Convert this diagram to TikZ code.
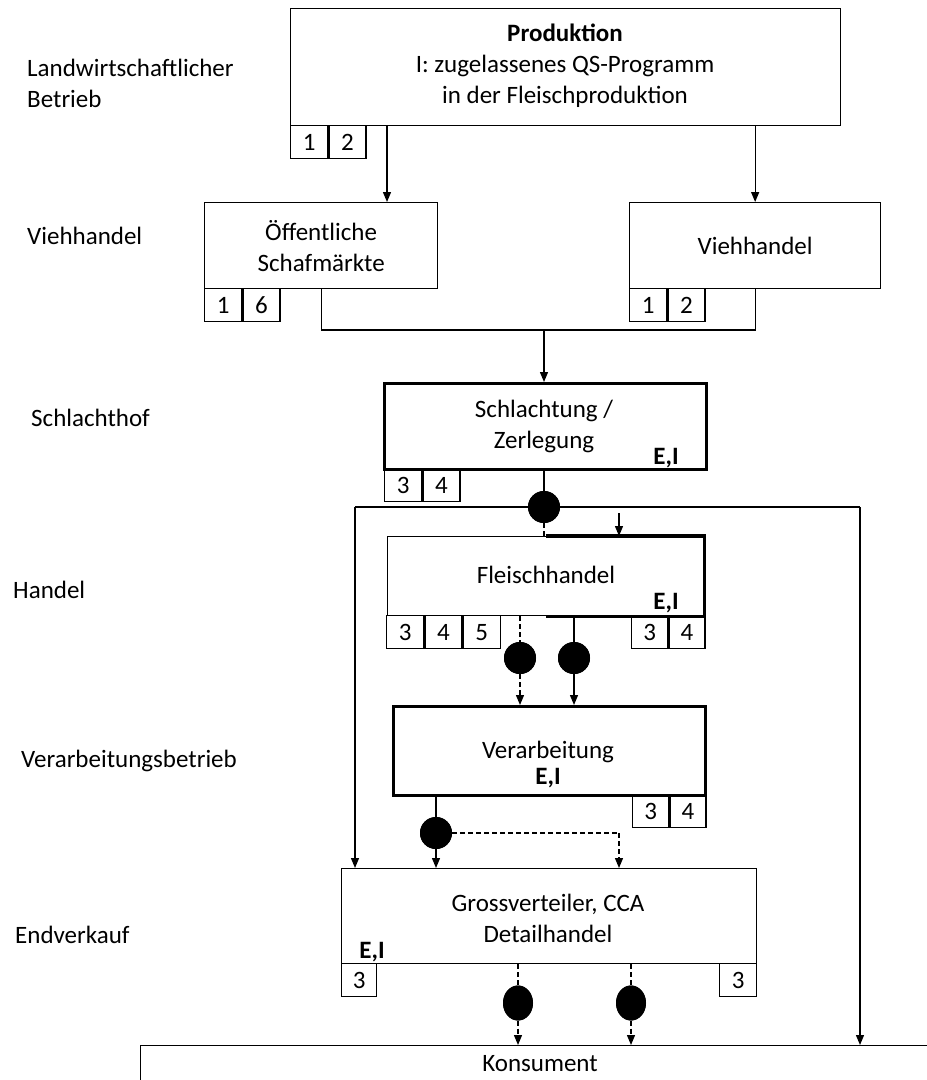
\documentclass[tikz,border=0pt]{standalone}
\usepackage{fontspec}
\setmainfont{Carlito}
\usetikzlibrary{arrows.meta,shapes.geometric}
\begin{document}
\begin{tikzpicture}[x=1pt,y=-1pt,
  every node/.style={font=\fontsize{25}{31}\selectfont, text=black},
  frame/.style={draw, line width=1.3pt, inner sep=0pt, anchor=north west},
  thickframe/.style={frame, line width=3.2pt},
  numbox/.style={draw, line width=1.3pt, inner sep=0pt, anchor=north west, minimum height=33pt, minimum width=#1},
  numbox/.default=37pt,
  txt/.style={align=center, inner sep=0pt},
  lbl/.style={align=left, anchor=west, inner sep=0pt},
  ei/.style={inner sep=0pt, font=\fontsize{25}{31}\selectfont\bfseries},
  ln/.style={line width=1.3pt},
  arr/.style={ln, -{Triangle[length=10pt,width=8pt]}},
  dsh/.style={ln, dash pattern=on 5pt off 3pt},
  dot/.style={circle, fill=black, draw=none, inner sep=0pt, minimum size=32pt},
  odot/.style={ellipse, fill=black, draw=none, inner sep=0pt, minimum width=30pt, minimum height=35pt}
]
\useasboundingbox[fill=white] (0,0) rectangle (927,1080);

% left labels
\node[lbl] (l1) at (27,83) {Landwirtschaftlicher\\Betrieb};
\node[lbl] (l2) at (27,236) {Viehhandel};
\node[lbl] (l3) at (31,418) {Schlachthof};
\node[lbl] (l4) at (13,590) {Handel};
\node[lbl] (l5) at (21,761) {Verarbeitungsbetrieb};
\node[lbl] (l6) at (15,935) {Endverkauf};

% Produktion
\node[frame, minimum width=550pt, minimum height=117pt] (prod) at (290,8) {};
\node[txt] (prodt) at (565,66) {\textbf{Produktion}\\I: zugelassenes QS-Programm\\in der Fleischproduktion};
\node[numbox] (p1) at (290,125) {1};
\node[numbox] (p2) at (p1.north east) {2};

% Oeffentliche Schafmaerkte
\node[frame, minimum width=233pt, minimum height=86pt] (schaf) at (204,202) {};
\node[txt] (schaft) at (schaf.center) {Öffentliche\\Schafmärkte};
\node[numbox] (s1) at (204,288) {1};
\node[numbox] (s2) at (s1.north east) {6};

% Viehhandel
\node[frame, minimum width=251pt, minimum height=86pt] (vieh) at (629,202) {};
\node[txt] (vieht) at (vieh.center) {Viehhandel};
\node[numbox] (v1) at (629,288) {1};
\node[numbox] (v2) at (v1.north east) {2};

% Schlachtung
\node[thickframe, minimum width=322pt, minimum height=86pt] (schl) at (383,382) {};
\node[txt] (schlt) at (544,426) {Schlachtung /\\Zerlegung};
\node[ei] (schlei) at (666,458) {E,I};
\node[numbox] (z1) at (384,468) {3};
\node[numbox] (z2) at (z1.north east) {4};

% Fleischhandel
\node[frame, minimum width=316pt, minimum height=79pt] (fl) at (387,536) {};
\draw[line width=3.2pt] (fl.north) -- (fl.north east) -- (fl.south east) -- (fl.south);
\node[txt] (flt) at (546,575) {Fleischhandel};
\node[ei] (flei) at (666,603) {E,I};
\node[numbox] (f1) at (386,615) {3};
\node[numbox] (f2) at (f1.north east) {4};
\node[numbox] (f3) at (f2.north east) {5};
\node[numbox=36pt] (f4) at (631,615) {3};
\node[numbox=36pt] (f5) at (f4.north east) {4};

% Verarbeitung
\node[thickframe, minimum width=312pt, minimum height=89pt] (ver) at (392,705) {};
\node[txt] (vert) at (548,752) {Verarbeitung};
\node[ei] (verei) at (548,778) {E,I};
\node[numbox=36pt] (r1) at (632,794) {3};
\node[numbox=36pt] (r2) at (r1.north east) {4};

% Endverkauf
\node[frame, minimum width=415pt, minimum height=95pt] (end) at (341,868) {};
\node[txt] (endt) at (548,918) {Grossverteiler, CCA\\Detailhandel};
\node[ei] (endei) at (372,952) {E,I};
\node[numbox=35pt] (e1) at (341,963) {3};
\node[numbox=37pt] (e2) at (719,963) {3};

% Konsument
\node[frame, minimum width=800pt, minimum height=80pt] (kons) at (140,1045) {};
\node[txt] (konst) at (540,1064) {Konsument};

% coordinates for connectors
\coordinate (x387) at (387,0);
\coordinate (j1) at (544,330);
\coordinate (hl) at (355,507);
\coordinate (hr) at (860,507);
\coordinate (sa) at (619,513);
\coordinate (dr) at (619,833);

% dots
\node[dot] (d1) at (544,507) {};
\node[dot] (d2) at (520,658) {};
\node[dot] (d3) at (574,658) {};
\node[dot] (d4) at (436,833) {};
\node[odot] (d5) at (518,1003) {};
\node[odot] (d6) at (631,1003) {};

% connectors
\draw[arr] (prod.south -| x387) -- (schaf.north -| x387);
\draw[arr] (prod.south -| vieh.north) -- (vieh.north);
\draw[ln] (schaf.south) -- (schaf.south |- j1) -- (vieh.south |- j1) -- (vieh.south);
\draw[arr] (j1) -- (j1 |- schl.north);
\draw[ln] (schl.south -| d1) -- (d1);
\draw[ln] (hl) -- (hr);
\draw[arr] (hl) -- (hl |- end.north);
\draw[arr] (hr) -- (hr |- kons.north);
\draw[dsh] (d1) -- (d1 |- fl.north);
\draw[arr] (sa) -- (sa |- fl.north);
\draw[dsh] (d2 |- fl.south) -- (d2);
\draw[dsh,arr] (d2) -- (d2 |- ver.north);
\draw[ln] (d3 |- fl.south) -- (d3);
\draw[arr] (d3) -- (d3 |- ver.north);
\draw[ln] (d4 |- ver.south) -- (d4);
\draw[arr] (d4) -- (d4 |- end.north);
\draw[dsh] (d4) -- (dr);
\draw[dsh,arr] (dr) -- (dr |- end.north);
\draw[dsh] (d5 |- end.south) -- (d5);
\draw[dsh,arr] (d5) -- (d5 |- kons.north);
\draw[dsh] (d6 |- end.south) -- (d6);
\draw[dsh,arr] (d6) -- (d6 |- kons.north);

% redraw dots on top
\node[dot] at (d1) {};
\node[dot] at (d2) {};
\node[dot] at (d3) {};
\node[dot] at (d4) {};
\node[odot] at (d5) {};
\node[odot] at (d6) {};
\end{tikzpicture}
\end{document}
